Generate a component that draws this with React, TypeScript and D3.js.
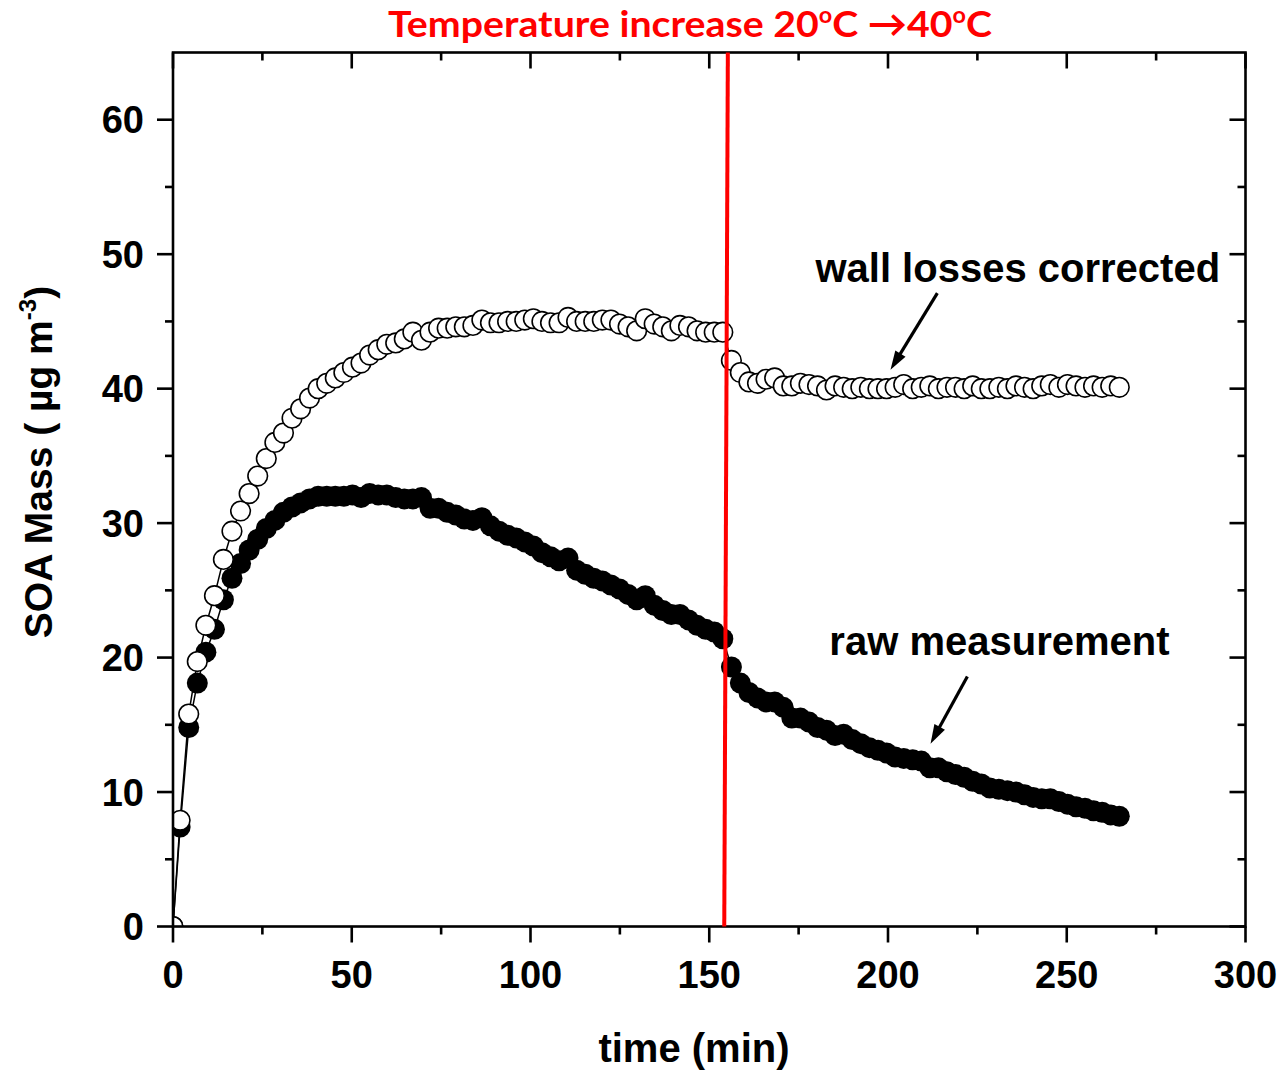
import React from "react";
import * as d3 from "d3";

const times = [0, 2.0, 4.4, 6.8, 9.2, 11.6, 14.1, 16.5, 18.9, 21.3, 23.7, 26.1, 28.5, 30.9, 33.3, 35.7, 38.2, 40.6, 43.0, 45.4, 47.8, 50.2, 52.6, 55.0, 57.4, 59.8, 62.3, 64.7, 67.1, 69.5, 71.9, 74.3, 76.7, 79.1, 81.5, 83.9, 86.4, 88.8, 91.2, 93.6, 96.0, 98.4, 100.8, 103.2, 105.6, 108.0, 110.5, 112.9, 115.3, 117.7, 120.1, 122.5, 124.9, 127.3, 129.7, 132.1, 134.6, 137.0, 139.4, 141.8, 144.2, 146.6, 149.0, 151.4, 153.8, 156.2, 158.7, 161.1, 163.5, 165.9, 168.3, 170.7, 173.1, 175.5, 177.9, 180.3, 182.8, 185.2, 187.6, 190.0, 192.4, 194.8, 197.2, 199.6, 202.0, 204.4, 206.9, 209.3, 211.7, 214.1, 216.5, 218.9, 221.3, 223.7, 226.1, 228.5, 231.0, 233.4, 235.8, 238.2, 240.6, 243.0, 245.4, 247.8, 250.2, 252.6, 255.1, 257.5, 259.9, 262.3, 264.7];

const wallCorrected = [0, 7.9, 15.8, 19.7, 22.4, 24.6, 27.3, 29.4, 30.9, 32.2, 33.5, 34.8, 36.0, 36.7, 37.8, 38.5, 39.3, 40.0, 40.4, 40.8, 41.2, 41.6, 41.9, 42.5, 42.9, 43.3, 43.4, 43.7, 44.2, 43.6, 44.2, 44.5, 44.5, 44.6, 44.6, 44.7, 45.1, 44.9, 44.9, 45.0, 45.0, 45.1, 45.2, 45.0, 44.9, 44.9, 45.3, 45.0, 45.0, 45.0, 45.1, 45.1, 44.8, 44.6, 44.3, 45.2, 44.8, 44.6, 44.3, 44.7, 44.6, 44.3, 44.2, 44.2, 44.2, 42.1, 41.2, 40.5, 40.4, 40.7, 40.8, 40.2, 40.2, 40.4, 40.3, 40.2, 39.9, 40.2, 40.1, 40.0, 40.1, 40.0, 40.0, 40.0, 40.1, 40.3, 40.0, 40.1, 40.2, 40.0, 40.1, 40.1, 40.0, 40.2, 40.0, 40.0, 40.1, 40.0, 40.2, 40.1, 40.0, 40.2, 40.3, 40.1, 40.3, 40.2, 40.1, 40.2, 40.1, 40.2, 40.1];

const rawMeasurement = [0, 7.4, 14.8, 18.1, 20.4, 22.1, 24.3, 25.9, 27.0, 28.0, 28.8, 29.6, 30.2, 30.8, 31.2, 31.5, 31.8, 32.0, 32.0, 32.0, 32.0, 32.1, 31.9, 32.2, 32.1, 32.1, 31.9, 31.8, 31.8, 31.9, 31.1, 31.1, 30.8, 30.6, 30.3, 30.2, 30.4, 29.8, 29.4, 29.1, 28.9, 28.6, 28.3, 27.8, 27.5, 27.2, 27.4, 26.5, 26.2, 25.9, 25.7, 25.4, 25.1, 24.7, 24.3, 24.6, 23.9, 23.5, 23.2, 23.2, 22.8, 22.4, 22.1, 21.9, 21.4, 19.3, 18.1, 17.4, 17.0, 16.7, 16.7, 16.3, 15.5, 15.5, 15.2, 14.8, 14.6, 14.2, 14.3, 13.9, 13.6, 13.3, 13.1, 12.9, 12.6, 12.5, 12.4, 12.3, 11.8, 11.8, 11.5, 11.3, 11.1, 10.8, 10.6, 10.3, 10.2, 10.1, 10.0, 9.8, 9.6, 9.5, 9.5, 9.3, 9.1, 8.9, 8.8, 8.6, 8.5, 8.3, 8.2];

const xTicks = [0, 50, 100, 150, 200, 250, 300];
const xMinorTicks = [25, 75, 125, 175, 225, 275];
const yTicks = [0, 10, 20, 30, 40, 50, 60];
const yMinorTicks = [5, 15, 25, 35, 45, 55];

// temperature change marker (slightly slanted as in original): [time at 0, time at 65]
const tempLineTimes = [154.2, 155.2];

const titleText = "Temperature increase 20";
const xLabel = "time (min)";
const yLabelMain = "SOA Mass ( µg m";
const yLabelSup = "-3";
const wallLabel = "wall losses corrected";
const rawLabel = "raw measurement";

// annotation arrows in data coordinates: [fromT, fromV, toT, toV]
const wallArrow = [213.8, 47.1, 200.7, 41.4];
const rawArrow = [222.2, 18.6, 211.9, 13.6];

const W = 1285;
const H = 1072;
const left = 173;
const right = 1245.5;
const top = 52.5;
const bottom = 926.5;

const x = d3.scaleLinear().domain([0, 300]).range([left, right]);
const y = d3.scaleLinear().domain([0, 65]).range([bottom, top]);

const AXIS_FONT = "'Liberation Sans', Arial, Helvetica, sans-serif";

function Arrow({ a }: { a: number[] }) {
  const x1 = x(a[0]), y1 = y(a[1]), x2 = x(a[2]), y2 = y(a[3]);
  const ang = Math.atan2(y2 - y1, x2 - x1);
  const hl = 19, hw = 6;
  const bx = x2 - hl * Math.cos(ang), by = y2 - hl * Math.sin(ang);
  const px = -Math.sin(ang) * hw, py = Math.cos(ang) * hw;
  const lx = x2 - (hl - 3) * Math.cos(ang), ly = y2 - (hl - 3) * Math.sin(ang);
  return (
    <g>
      <line x1={x1} y1={y1} x2={lx} y2={ly} stroke="#000" strokeWidth={3.2} />
      <path d={`M${x2},${y2}L${bx + px},${by + py}L${bx - px},${by - py}Z`} fill="#000" />
    </g>
  );
}

export default function App() {
  const line = d3
    .line<number>()
    .x((_, i) => x(times[i]))
    .y((d) => y(d));

  return (
    <svg width={W} height={H} style={{ position: "absolute", left: 0, top: 0, background: "#fff" }}>
      <defs>
        <clipPath id="plotClip">
          <rect x={left} y={top} width={right - left} height={bottom - top} />
        </clipPath>
      </defs>
      <rect x={0} y={0} width={W} height={H} fill="#fff" />

      <g clipPath="url(#plotClip)">
        {/* series lines */}
        <path d={line(rawMeasurement) || ""} fill="none" stroke="#000" strokeWidth={1.5} />
        <path d={line(wallCorrected) || ""} fill="none" stroke="#000" strokeWidth={1.5} />

        {/* raw measurement markers */}
        {rawMeasurement.map((v, i) => (
          <circle key={"r" + i} cx={x(times[i])} cy={y(v)} r={10.5} fill="#000" />
        ))}
        {/* wall-corrected markers */}
        {wallCorrected.map((v, i) => (
          <circle key={"w" + i} cx={x(times[i])} cy={y(v)} r={9.8} fill="#fff" stroke="#000" strokeWidth={1.6} />
        ))}
      </g>

      {/* frame */}
      <rect x={left} y={top} width={right - left} height={bottom - top} fill="none" stroke="#000" strokeWidth={2.6} />

      {/* x ticks bottom (outward) and top (inward) */}
      {xTicks.map((t) => (
        <g key={"xt" + t}>
          <line x1={x(t)} x2={x(t)} y1={bottom} y2={bottom + 16} stroke="#000" strokeWidth={2.6} />
          <line x1={x(t)} x2={x(t)} y1={top} y2={top + 16} stroke="#000" strokeWidth={2.6} />
          <text x={x(t)} y={988} textAnchor="middle" fontFamily={AXIS_FONT} fontWeight="bold" fontSize={38} fill="#000">
            {t}
          </text>
        </g>
      ))}
      {xMinorTicks.map((t) => (
        <g key={"xm" + t}>
          <line x1={x(t)} x2={x(t)} y1={bottom} y2={bottom + 8} stroke="#000" strokeWidth={2.6} />
          <line x1={x(t)} x2={x(t)} y1={top} y2={top + 8} stroke="#000" strokeWidth={2.6} />
        </g>
      ))}

      {/* y ticks left (outward) and right (inward) */}
      {yTicks.map((v) => (
        <g key={"yt" + v}>
          <line x1={left - 16} x2={left} y1={y(v)} y2={y(v)} stroke="#000" strokeWidth={2.6} />
          <line x1={right - 16} x2={right} y1={y(v)} y2={y(v)} stroke="#000" strokeWidth={2.6} />
          <text x={144} y={y(v) + 13.5} textAnchor="end" fontFamily={AXIS_FONT} fontWeight="bold" fontSize={38} fill="#000">
            {v}
          </text>
        </g>
      ))}
      {yMinorTicks.map((v) => (
        <g key={"ym" + v}>
          <line x1={left - 8} x2={left} y1={y(v)} y2={y(v)} stroke="#000" strokeWidth={2.6} />
          <line x1={right - 8} x2={right} y1={y(v)} y2={y(v)} stroke="#000" strokeWidth={2.6} />
        </g>
      ))}

      {/* temperature change line */}
      <line
        x1={x(tempLineTimes[0])}
        y1={y(0)}
        x2={x(tempLineTimes[1])}
        y2={y(65)}
        stroke="#ff0000"
        strokeWidth={4}
      />

      {/* axis labels */}
      <text x={694} y={1062} textAnchor="middle" fontFamily={AXIS_FONT} fontWeight="bold" fontSize={40} fill="#000">
        {xLabel}
      </text>
      <text
        transform="translate(52,462) rotate(-90)"
        textAnchor="middle"
        fontFamily={AXIS_FONT}
        fontWeight="bold"
        fontSize={39}
        fill="#000"
      >
        {yLabelMain}
        <tspan fontSize={24} dy={-16}>{yLabelSup}</tspan>
        <tspan dy={16}>)</tspan>
      </text>

      {/* title */}
      <text
        x={388}
        y={37}
        fontFamily="Lato, 'Open Sans', sans-serif"
        fontWeight="bold"
        fontSize={37}
        fill="#ff0000"
        textLength={604}
        lengthAdjust="spacingAndGlyphs"
      >
        {titleText}
        <tspan fontSize={22} dy={-14}>o</tspan>
        <tspan dy={14}>{"C \u219240"}</tspan>
        <tspan fontSize={22} dy={-14}>o</tspan>
        <tspan dy={14}>C</tspan>
      </text>

      {/* annotations */}
      <text x={x(179.7)} y={y(47.9)} fontFamily={AXIS_FONT} fontWeight="bold" fontSize={40} fill="#000">
        {wallLabel}
      </text>
      <text x={x(183.6)} y={y(20.2)} fontFamily={AXIS_FONT} fontWeight="bold" fontSize={40} fill="#000">
        {rawLabel}
      </text>
      <Arrow a={wallArrow} />
      <Arrow a={rawArrow} />
    </svg>
  );
}
